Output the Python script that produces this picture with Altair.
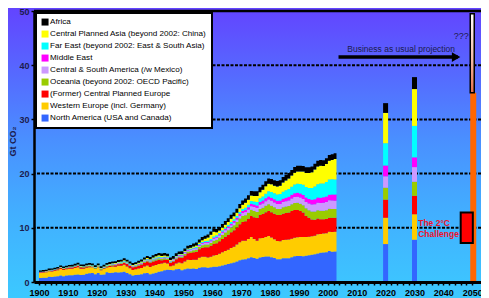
import altair as alt
import pandas as pd

# ---------------- data ----------------
years = list(range(1900, 2004))

# stack order: bottom -> top
regions = [
    "North America (USA and Canada)",
    "Western Europe (incl. Germany)",
    "(Former) Central Planned Europe",
    "Oceania (beyond 2002: OECD Pacific)",
    "Central & South America (/w Mexico)",
    "Middle East",
    "Far East (beyond 2002: East & South Asia)",
    "Central Planned Asia (beyond 2002: China)",
    "Africa",
]
colors = ["#3366FF", "#FFCC00", "#FF0000", "#99CC00", "#CC99FF",
          "#FF00FF", "#00FFFF", "#FFFF00", "#000000"]

north_america = [0.72,0.78,0.80,0.95,0.92,1.02,1.07,1.22,1.08,1.18,
 1.25,1.23,1.32,1.38,1.28,1.36,1.50,1.62,1.68,1.45,
 1.65,1.32,1.40,1.78,1.68,1.72,1.82,1.76,1.78,1.88,
 1.68,1.45,1.22,1.28,1.35,1.42,1.60,1.68,1.45,1.58,
 1.72,1.90,2.00,2.18,2.28,2.22,2.15,2.35,2.38,2.18,
 2.35,2.50,2.45,2.50,2.40,2.62,2.72,2.70,2.62,2.72,
 2.80,2.82,2.92,3.05,3.18,3.30,3.48,3.62,3.80,4.00,
 4.15,4.18,4.38,4.58,4.42,4.28,4.50,4.62,4.70,4.72,
 4.55,4.42,4.22,4.22,4.38,4.40,4.40,4.55,4.75,4.80,
 4.80,4.75,4.85,4.95,5.05,5.10,5.28,5.38,5.42,5.50,
 5.70,5.60,5.65,5.85]
western_europe = [0.95,0.95,0.98,1.02,1.03,1.06,1.10,1.18,1.15,1.16,
 1.18,1.22,1.26,1.35,1.18,1.10,1.15,1.12,1.05,0.95,
 1.05,0.85,1.00,0.90,1.10,1.12,1.00,1.22,1.20,1.28,
 1.20,1.08,1.00,1.05,1.12,1.18,1.25,1.35,1.30,1.40,
 1.40,1.42,1.40,1.35,1.15,0.70,0.90,1.05,1.20,1.30,
 1.45,1.60,1.60,1.62,1.72,1.85,1.92,1.95,1.92,1.95,
 2.10,2.15,2.30,2.45,2.55,2.65,2.80,2.90,3.10,3.35,
 3.45,3.45,3.55,3.70,3.50,3.35,3.55,3.50,3.62,3.78,
 3.65,3.45,3.35,3.30,3.35,3.40,3.42,3.45,3.42,3.45,
 3.50,3.55,3.45,3.40,3.40,3.45,3.55,3.48,3.52,3.50,
 3.55,3.62,3.60,3.65]
former_cpe = [0.12,0.13,0.13,0.14,0.15,0.15,0.17,0.19,0.19,0.20,
 0.21,0.22,0.24,0.27,0.25,0.22,0.22,0.18,0.10,0.10,
 0.10,0.12,0.14,0.16,0.18,0.22,0.26,0.28,0.32,0.36,
 0.42,0.45,0.48,0.50,0.55,0.62,0.70,0.74,0.78,0.82,
 0.86,0.80,0.62,0.62,0.65,0.60,0.72,0.82,0.92,1.00,
 1.10,1.20,1.28,1.36,1.45,1.55,1.68,1.78,1.88,2.00,
 2.12,2.18,2.30,2.45,2.60,2.75,2.88,3.02,3.15,3.30,
 3.48,3.60,3.72,3.88,4.02,4.18,4.30,4.42,4.55,4.62,
 4.68,4.72,4.78,4.82,4.88,4.92,5.02,5.10,5.12,5.05,
 4.80,4.50,3.90,3.50,3.10,2.95,2.88,2.72,2.65,2.62,
 2.62,2.65,2.62,2.70]
oceania = [0.03,0.03,0.03,0.04,0.04,0.04,0.05,0.05,0.05,0.05,
 0.06,0.06,0.07,0.07,0.07,0.07,0.07,0.08,0.08,0.08,
 0.09,0.09,0.10,0.10,0.11,0.12,0.12,0.13,0.14,0.14,
 0.13,0.12,0.12,0.13,0.14,0.16,0.18,0.20,0.21,0.22,
 0.23,0.24,0.24,0.22,0.18,0.12,0.14,0.17,0.20,0.23,
 0.27,0.31,0.33,0.36,0.38,0.42,0.46,0.50,0.50,0.54,
 0.60,0.66,0.68,0.74,0.80,0.84,0.88,0.95,1.00,1.05,
 1.08,1.10,1.12,1.18,1.18,1.12,1.14,1.16,1.18,1.22,
 1.20,1.18,1.14,1.14,1.18,1.20,1.20,1.24,1.30,1.34,
 1.36,1.38,1.40,1.40,1.45,1.50,1.52,1.55,1.55,1.60,
 1.65,1.62,1.60,1.62]
central_south_america = [0.02,0.02,0.02,0.02,0.03,0.03,0.03,0.03,0.03,0.04,
 0.04,0.04,0.05,0.05,0.04,0.04,0.04,0.05,0.05,0.05,
 0.05,0.05,0.06,0.06,0.07,0.07,0.08,0.08,0.09,0.10,
 0.09,0.08,0.08,0.08,0.09,0.09,0.10,0.11,0.11,0.12,
 0.12,0.12,0.12,0.12,0.13,0.14,0.15,0.17,0.18,0.19,
 0.20,0.22,0.23,0.24,0.26,0.27,0.29,0.31,0.32,0.33,
 0.34,0.35,0.37,0.38,0.40,0.41,0.43,0.45,0.48,0.52,
 0.55,0.58,0.60,0.65,0.70,0.72,0.76,0.80,0.84,0.88,
 0.92,0.92,0.92,0.92,0.95,0.98,1.02,1.05,1.08,1.10,
 1.12,1.15,1.18,1.22,1.28,1.34,1.40,1.45,1.50,1.52,
 1.55,1.55,1.52,1.52]
middle_east = [0.01,0.01,0.01,0.01,0.01,0.01,0.01,0.01,0.01,0.01,
 0.01,0.01,0.01,0.01,0.01,0.01,0.01,0.01,0.01,0.01,
 0.02,0.02,0.02,0.02,0.03,0.03,0.03,0.03,0.04,0.04,
 0.04,0.04,0.04,0.04,0.05,0.05,0.05,0.05,0.06,0.06,
 0.06,0.06,0.06,0.06,0.06,0.06,0.07,0.07,0.08,0.08,
 0.10,0.10,0.11,0.12,0.12,0.13,0.14,0.15,0.16,0.17,
 0.20,0.21,0.22,0.24,0.26,0.28,0.30,0.32,0.34,0.36,
 0.38,0.40,0.42,0.45,0.46,0.48,0.50,0.52,0.54,0.56,
 0.56,0.58,0.60,0.62,0.64,0.66,0.68,0.70,0.72,0.74,
 0.75,0.74,0.80,0.84,0.88,0.92,0.95,0.98,1.00,1.02,
 1.05,1.10,1.15,1.25]
far_east = [0.02,0.02,0.02,0.03,0.03,0.03,0.03,0.03,0.04,0.04,
 0.04,0.04,0.05,0.05,0.05,0.05,0.05,0.05,0.06,0.06,
 0.06,0.06,0.06,0.07,0.07,0.07,0.08,0.08,0.08,0.08,
 0.08,0.08,0.08,0.09,0.09,0.10,0.10,0.11,0.11,0.12,
 0.12,0.12,0.12,0.11,0.10,0.08,0.08,0.09,0.10,0.10,
 0.11,0.12,0.13,0.14,0.15,0.16,0.17,0.18,0.20,0.22,
 0.23,0.24,0.25,0.26,0.27,0.28,0.29,0.30,0.31,0.33,
 0.36,0.40,0.45,0.52,0.58,0.62,0.68,0.75,0.85,0.95,
 1.05,1.10,1.15,1.20,1.28,1.35,1.42,1.50,1.58,1.65,
 1.75,1.85,1.95,2.05,2.20,2.35,2.45,2.60,2.55,2.70,
 2.80,2.80,2.75,2.70]
central_planned_asia = [0.02,0.02,0.02,0.02,0.03,0.03,0.03,0.04,0.04,0.05,
 0.05,0.06,0.06,0.07,0.06,0.06,0.07,0.07,0.08,0.08,
 0.08,0.08,0.09,0.09,0.10,0.10,0.10,0.11,0.11,0.12,
 0.12,0.12,0.12,0.13,0.14,0.15,0.17,0.18,0.20,0.22,
 0.24,0.26,0.26,0.24,0.20,0.12,0.10,0.10,0.10,0.10,
 0.12,0.15,0.18,0.22,0.26,0.30,0.34,0.40,0.60,0.80,
 0.88,0.55,0.48,0.48,0.50,0.55,0.62,0.55,0.58,0.70,
 0.82,0.90,0.95,1.00,1.02,1.12,1.15,1.25,1.38,1.40,
 1.42,1.40,1.48,1.56,1.68,1.82,1.92,2.05,2.20,2.28,
 2.32,2.45,2.58,2.75,2.90,3.15,3.30,3.28,3.20,3.30,
 3.45,3.55,3.80,4.30]
africa = [0.25,0.25,0.26,0.26,0.27,0.27,0.28,0.28,0.28,0.29,
 0.29,0.30,0.30,0.31,0.30,0.30,0.30,0.31,0.31,0.31,
 0.32,0.32,0.32,0.33,0.33,0.34,0.34,0.35,0.35,0.36,
 0.36,0.35,0.35,0.36,0.37,0.38,0.39,0.40,0.40,0.41,
 0.42,0.43,0.44,0.44,0.45,0.46,0.47,0.48,0.48,0.49,
 0.50,0.51,0.52,0.53,0.54,0.55,0.56,0.57,0.58,0.60,
 0.62,0.63,0.65,0.66,0.68,0.70,0.71,0.73,0.75,0.77,
 0.78,0.80,0.82,0.84,0.86,0.88,0.90,0.92,0.94,0.96,
 0.98,1.00,1.00,1.00,1.01,1.02,1.02,1.03,1.04,1.05,
 1.05,1.05,1.05,1.05,1.05,1.05,1.05,1.05,1.06,1.06,
 1.06,1.06,1.07,1.08]

series = [north_america, western_europe, former_cpe, oceania,
          central_south_america, middle_east, far_east,
          central_planned_asia, africa]

# projections (same stack order)
proj_years = [2020, 2030]
proj_2020 = [7.0, 4.85, 3.35, 2.2, 2.1, 2.0, 4.1, 5.6, 1.8]
proj_2030 = [7.8, 4.7, 3.4, 2.6, 2.7, 1.8, 5.8, 6.8, 2.2]

bau_2050 = 34.9
bau_upper = 49.5
challenge_low, challenge_high = 7.2, 12.8
arrow_start, arrow_end, arrow_level = 2003.7, 2046.0, 41.5

# annotation texts
ann_x = [2025.4, 2046.2, 2031.3, 2031.3]
ann_y = [42.9, 45.3, 10.8, 8.8]
ann_t = ["Business as usual projection", "???", "The 2°C", "Challenge"]

# ---------------- tables ----------------
rows = []
for k, (reg, vals) in enumerate(zip(regions, series)):
    for y, v in zip(years, vals):
        rows.append({"year": y, "region": reg, "value": v, "k": k})
hist = pd.DataFrame(rows)

prow = []
for py, vals in zip(proj_years, [proj_2020, proj_2030]):
    for k, (reg, v) in enumerate(zip(regions, vals)):
        prow.append({"year": py, "region": reg, "value": v, "k": k})
proj = pd.DataFrame(prow)

legend_order = regions[::-1]
color_scale = alt.Scale(domain=legend_order, range=colors[::-1])

W, H = 447, 271
xs = alt.Scale(domain=[1900, 2051.3], nice=False, zero=False)
ys = alt.Scale(domain=[0, 50], nice=False, zero=True)
NAVY = "#1c1c4e"
FONT = "Liberation Sans"
YT = "Gt CO₂"

x_axis = alt.Axis(values=list(range(1900, 2052, 2)),
                  labelExpr="datum.value % 10 == 0 ? datum.value : ''",
                  format="d", labelFont=FONT, labelFontSize=9,
                  labelFontWeight="bold", labelColor="black",
                  labelPadding=3, tickSize=3, tickWidth=1.5,
                  tickColor="black", domainColor="black",
                  domainWidth=3, grid=False, labelFlush=False,
                  labelOverlap=False, zindex=2)
y_axis = alt.Axis(values=[0, 10, 20, 30, 40, 50], labelFont=FONT,
                  labelFontSize=9, labelFontWeight="bold",
                  labelColor=NAVY, labelPadding=2, tickSize=3,
                  tickWidth=1.5, tickColor="black",
                  domainColor="black", domainWidth=2.5, grid=False,
                  titleFont=FONT, titleFontSize=9,
                  titleFontWeight="bold", titleColor=NAVY,
                  titleX=-22, titleY=130, titleBaseline="middle",
                  titleAlign="center", zindex=2)


def X(field):
    return alt.X(field, scale=xs, title=None, axis=x_axis)


def Y(field, **kw):
    return alt.Y(field, scale=ys, title=YT, axis=y_axis, **kw)


bg = alt.Chart(pd.DataFrame({"a": [0]})).mark_rect(
    color=alt.Gradient(
        gradient="linear",
        stops=[alt.GradientStop(color="#6344FF", offset=0),
               alt.GradientStop(color="#5668FF", offset=0.22),
               alt.GradientStop(color="#4A8FFF", offset=0.45),
               alt.GradientStop(color="#42AEFF", offset=0.7),
               alt.GradientStop(color="#3CC9FF", offset=1)],
        x1=0, x2=0, y1=0, y2=1)
).encode(x=alt.value(-26), x2=alt.value(W), y=alt.value(-3), y2=alt.value(H + 16))

grid = alt.Chart(pd.DataFrame({"v": [10, 20, 30, 40]})).mark_rule(
    color="black", strokeWidth=2, strokeDash=[3, 1.5]
).encode(y=Y("v:Q"))

top = alt.Chart(pd.DataFrame({"v": [50]})).mark_rule(
    color="black", strokeWidth=2.5
).encode(y=Y("v:Q"))

area = alt.Chart(hist).mark_area(interpolate="step-after", opacity=1).encode(
    x=X("year:Q"),
    y=Y("value:Q", stack="zero"),
    color=alt.Color("region:N", scale=color_scale,
                    legend=alt.Legend(title=None)),
    order=alt.Order("k:Q", sort="ascending"),
)

bars = alt.Chart(proj).mark_bar(size=5).encode(
    x=X("year:Q"),
    y=Y("value:Q", stack="zero"),
    color=alt.Color("region:N", scale=color_scale,
                    legend=alt.Legend(title=None)),
    order=alt.Order("k:Q", sort="ascending"),
)

bau = alt.Chart(pd.DataFrame({"year": [2050], "v": [bau_2050]})).mark_bar(
    size=6, xOffset=1, color="#FF6600"
).encode(x=X("year:Q"), y=Y("v:Q"))

unc = alt.Chart(pd.DataFrame({"year": [2050], "lo": [bau_2050], "hi": [bau_upper]})).mark_bar(
    size=4, xOffset=0, stroke="black", strokeWidth=1.5,
    color=alt.Gradient(gradient="linear",
                       stops=[alt.GradientStop(color="#FFFFFF", offset=0),
                              alt.GradientStop(color="#F4B8A0", offset=0.6),
                              alt.GradientStop(color="#E8704A", offset=1)],
                       x1=0, x2=0, y1=0, y2=1)
).encode(x=X("year:Q"), y=Y("lo:Q"), y2="hi:Q")

challenge = alt.Chart(pd.DataFrame({"x": [2046.0], "x2": [2050.2],
                                    "lo": [challenge_low], "hi": [challenge_high]})).mark_rect(
    color="#FF0000", stroke="black", strokeWidth=2
).encode(x=X("x:Q"), x2="x2:Q", y=Y("lo:Q"), y2="hi:Q")

ann = pd.DataFrame({"x": ann_x, "y": ann_y, "t": ann_t})

bau_txt = alt.Chart(ann.iloc[:1]).mark_text(
    align="center", baseline="middle", font=FONT, fontSize=8.5, color=NAVY
).encode(x=X("x:Q"), y=Y("y:Q"), text="t")

q_txt = alt.Chart(ann.iloc[1:2]).mark_text(
    align="center", baseline="middle", font=FONT, fontSize=9, color=NAVY
).encode(x=X("x:Q"), y=Y("y:Q"), text="t")

challenge_txt = alt.Chart(ann.iloc[2:]).mark_text(
    align="left", baseline="middle", font=FONT, fontSize=8.5, fontWeight="bold",
    color="#F0102A"
).encode(x=X("x:Q"), y=Y("y:Q"), text="t")

arrow = alt.Chart(pd.DataFrame({"x": [arrow_start], "x2": [arrow_end - 1.0],
                                "y": [arrow_level]})).mark_rule(
    color="black", strokeWidth=3.5
).encode(x=X("x:Q"), x2="x2:Q", y=Y("y:Q"))

arrow_head = alt.Chart(pd.DataFrame({"x": [arrow_end - 1.6], "y": [arrow_level]})).mark_point(
    shape="triangle-right", filled=True, color="black", size=95, opacity=1
).encode(x=X("x:Q"), y=Y("y:Q"))

chart = alt.layer(
    bg, grid, area, bars, bau, unc, top, challenge, challenge_txt,
    arrow, arrow_head, bau_txt, q_txt
).properties(
    width=W, height=H,
    autosize=alt.AutoSizeParams(type="none"),
    padding={"left": 26, "top": 3, "right": 0, "bottom": 16},
    background="#4A8FFF",
).configure_view(
    strokeWidth=0
).configure_legend(
    orient="none", legendX=2, legendY=2, fillColor="white",
    strokeColor="black", strokeWidth=2, padding=5, symbolType="square",
    symbolSize=49, symbolStrokeWidth=0, labelFont=FONT, labelFontSize=8.1,
    labelColor="black", labelOffset=1, rowPadding=3, labelLimit=300,
)

chart.save("out.html", embed_options={"renderer": "svg", "actions": False})
